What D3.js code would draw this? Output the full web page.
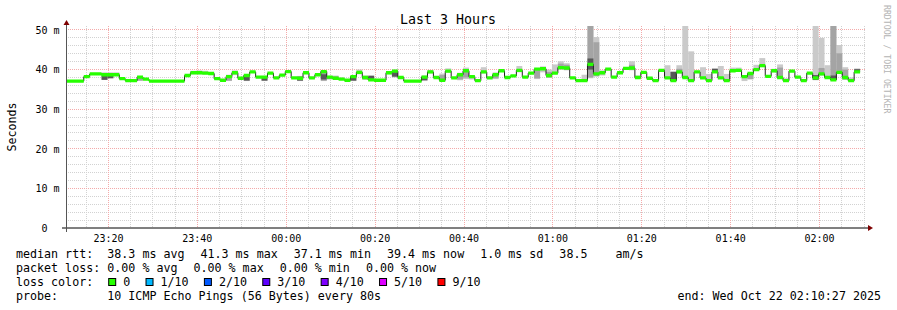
<!DOCTYPE html>
<html><head><meta charset="utf-8">
<script src="https://cdn.jsdelivr.net/npm/d3@7"></script>
<style>
html,body{margin:0;padding:0;background:#fff;}
svg{display:block;}
text{font-family:"DejaVu Sans Mono",monospace;white-space:pre;}
</style></head><body>
<svg id="c" width="897" height="310"></svg>
<script>
// ---- data ----
const median = [
 37.1,37.1,37.1,38.2,38.9,38.9,38.7,38.7,38.7,37.7,
 37.2,37.2,38.1,37.6,37.1,37.1,37.1,37.1,37.1,37.1,
 38.5,39.2,39.2,39.1,39.0,37.7,37.3,38.2,39.2,37.8,
 38.5,39.4,38.1,38.1,39.1,37.9,38.6,39.5,37.9,37.8,
 39.2,37.9,38.7,39.5,38.1,37.8,37.6,37.3,38.2,39.3,
 38.0,37.4,37.3,37.3,39.2,39.6,38.0,37.1,37.1,37.1,
 38.1,39.4,38.0,37.3,39.6,37.9,38.7,39.7,38.2,37.2,
 39.4,37.9,38.7,39.7,38.0,38.4,39.8,38.1,39.1,40.1,
 40.2,38.5,39.1,40.5,40.4,37.9,37.2,37.2,41.3,38.9,
 39.2,40.1,38.1,39.2,40.3,40.4,38.0,39.3,37.8,37.2,
 39.8,37.9,37.2,39.4,38.0,37.2,39.4,37.9,37.2,39.4,
 37.9,37.2,39.7,39.8,38.2,39.0,40.0,41.0,38.3,39.7,
 38.0,37.2,39.6,38.1,37.2,39.1,37.9,38.9,38.0,37.4,
 39.3,38.0,37.2,39.4
];
// [step, lightLo, lightHi, midLo, midHi, darkLo, darkHi]
const smoke = [
 [6,37.4,39.3,null,null,37.4,38.5],
 [7,37.8,39.3,null,null,37.8,38.5],
 [8,38.4,39.3,null,null,null,null],
 [12,37.2,38.3,37.2,38.0,null,null],
 [21,38.8,39.7,null,null,null,null],
 [22,38.8,39.8,38.9,39.5,null,null],
 [23,38.8,39.7,null,null,null,null],
 [27,37.1,38.7,37.2,38.3,null,null],
 [28,38.6,39.8,null,null,null,null],
 [30,37.1,38.6,null,null,37.2,38.4],
 [33,37.1,38.2,null,null,37.2,38.0],
 [39,37.1,38.4,null,null,37.2,38.2],
 [43,37.1,39.6,37.2,39.2,37.5,38.8],
 [44,37.5,38.4,37.6,38.3,null,null],
 [45,37.6,38.5,37.7,38.3,null,null],
 [46,37.4,38.0,null,null,null,null],
 [48,37.1,38.5,null,null,37.2,38.2],
 [49,38.8,40.0,null,null,null,null],
 [50,37.4,38.5,null,null,37.6,38.3],
 [51,37.3,38.6,null,null,37.5,38.4],
 [54,38.8,39.5,null,null,null,null],
 [55,38.0,40.0,null,null,38.2,39.4],
 [60,37.1,38.5,null,null,37.3,38.3],
 [61,39.0,39.9,null,null,null,null],
 [63,37.2,39.0,37.3,38.6,null,null],
 [64,39.2,40.3,null,null,null,null],
 [66,37.3,39.2,37.5,38.9,null,null],
 [67,37.6,40.5,38.0,40.1,null,null],
 [68,37.5,38.6,null,null,null,null],
 [70,39.0,40.6,null,null,null,null],
 [72,37.6,39.3,37.8,39.0,null,null],
 [76,39.3,40.9,null,null,null,null],
 [79,37.6,40.3,37.8,39.8,null,null],
 [80,39.3,40.8,null,null,null,null],
 [81,37.9,40.0,38.0,39.4,null,null],
 [82,39.0,41.3,null,null,null,null],
 [83,40.0,42.1,40.1,41.5,null,null],
 [84,39.8,41.6,39.9,41.2,null,null],
 [87,37.2,38.7,null,null,null,null],
 [88,37.8,52.0,38.0,52.0,40.0,42.8],
 [89,38.2,48.2,38.4,46.9,null,null],
 [90,38.5,39.8,null,null,null,null],
 [95,39.8,42.1,39.9,41.2,null,null],
 [96,37.8,38.5,null,null,null,null],
 [101,37.8,41.1,null,null,null,null],
 [102,37.2,39.6,null,null,37.3,39.4],
 [103,39.0,41.1,39.1,40.2,null,null],
 [104,37.8,52.0,null,null,null,null],
 [105,37.1,44.6,null,null,null,null],
 [107,37.8,40.6,null,null,null,null],
 [108,37.1,38.9,null,null,null,null],
 [109,39.2,40.3,null,null,39.3,40.2],
 [110,37.8,40.9,null,null,null,null],
 [111,37.1,38.9,null,null,null,null],
 [112,39.5,40.5,null,null,null,null],
 [113,39.5,40.5,null,null,null,null],
 [114,37.1,38.4,null,null,null,null],
 [115,37.5,39.2,37.6,39.0,null,null],
 [116,39.7,41.2,null,null,null,null],
 [117,40.6,42.9,null,null,null,null],
 [119,39.3,40.2,39.4,40.0,null,null],
 [120,37.9,41.3,38.0,40.5,null,null],
 [121,37.1,37.8,null,null,null,null],
 [126,37.3,52.0,null,null,37.4,38.6],
 [127,38.5,48.0,38.6,40.4,null,null],
 [128,37.9,41.1,null,null,null,null],
 [129,37.3,52.0,37.4,52.0,37.5,38.5],
 [130,39.0,46.2,39.1,44.1,null,null],
 [131,37.4,40.6,37.5,40.0,null,null],
 [132,37.1,38.0,null,null,null,null],
 [133,39.3,40.3,null,null,39.4,40.1]
];
const stepSeconds = 80;
const startTime = new Date(Date.UTC(2025, 9, 21, 23, 10, 27));
const endTime   = new Date(Date.UTC(2025, 9, 22, 2, 10, 27));
const yMax = 51;
const yMajor = [0, 10, 20, 30, 40, 50];
const yMinorStep = 2;
const xMajorMinutes = 20, xMinorMinutes = 5;
const title = "Last 3 Hours";
const yTitle = "Seconds";
const rttLabel = "median rtt:";
const rttStats = ["38.3 ms avg", "41.3 ms max", "37.1 ms min", "39.4 ms now", "1.0 ms sd", "38.5    am/s"];
const lossLabel = "packet loss:";
const lossStats = ["0.00 % avg", "0.00 % max", "0.00 % min", "0.00 % now"];
const lossColorLabel = "loss color:";
const lossLabels = ["0", "1/10", "2/10", "3/10", "4/10", "5/10", "9/10"];
const lossColors = ["#26ff00", "#00b8ff", "#0059ff", "#5e00ff", "#7e00ff", "#dd00ff", "#ff0000"];
const probeLabel = "probe:";
const probeText = "10 ICMP Echo Pings (56 Bytes) every 80s";
const endText = "end: Wed Oct 22 02:10:27 2025";
const sideText = "RRDTOOL / TOBI OETIKER";
const medianHalfWidth = 0.42;

// ---- layout ----
const X0 = 66, X1 = 866, Y0 = 228, Y1 = 26;
const svg = d3.select("#c");
svg.append("rect").attr("width", 897).attr("height", 310).attr("fill", "#fff");

const x = d3.scaleUtc().domain([startTime, endTime]).range([X0, X1]);
const y = d3.scaleLinear().domain([0, yMax]).range([Y0, Y1]);
const tAt = i => new Date(startTime.getTime() + i * stepSeconds * 1000);
const crisp = v => Math.floor(v) + 0.5;

// grid
const g = svg.append("g").attr("shape-rendering", "crispEdges");
const minorY = d3.range(0, yMax + 0.001, yMinorStep).filter(v => v % 10 !== 0);
const minorX = d3.utcMinute.every(xMinorMinutes).range(startTime, endTime)
  .filter(d => d.getUTCMinutes() % xMajorMinutes !== 0);
const majorX = d3.utcMinute.every(xMajorMinutes).range(startTime, endTime);
const minorCol = "#d2d2d2", majorCol = "#f4aaaa";
g.selectAll(".hmin").data(minorY).join("line")
  .attr("x1", X0).attr("x2", X1)
  .attr("y1", d => crisp(y(d))).attr("y2", d => crisp(y(d)))
  .attr("stroke", minorCol).attr("stroke-dasharray", "1,1");
g.selectAll(".vmin").data(minorX).join("line")
  .attr("x1", d => crisp(x(d))).attr("x2", d => crisp(x(d)))
  .attr("y1", Y1).attr("y2", Y0)
  .attr("stroke", minorCol).attr("stroke-dasharray", "1,1");
g.selectAll(".hmaj").data(yMajor.filter(v => v > 0)).join("line")
  .attr("x1", X0).attr("x2", X1)
  .attr("y1", d => crisp(y(d))).attr("y2", d => crisp(y(d)))
  .attr("stroke", majorCol).attr("stroke-dasharray", "1,1");
g.selectAll(".vmaj").data(majorX).join("line")
  .attr("x1", d => crisp(x(d))).attr("x2", d => crisp(x(d)))
  .attr("y1", Y1).attr("y2", Y0)
  .attr("stroke", majorCol).attr("stroke-dasharray", "1,1");

// plot clip
svg.append("clipPath").attr("id", "pc").append("rect")
  .attr("x", X0).attr("y", Y1).attr("width", X1 - X0).attr("height", Y0 - Y1);
const plot = svg.append("g").attr("clip-path", "url(#pc)");

// smoke
const bands = [
  {lo: 1, hi: 2, color: "#cacaca"},
  {lo: 3, hi: 4, color: "#a4a4a4"},
  {lo: 5, hi: 6, color: "#585858"}
];
bands.forEach(b => {
  plot.append("g").selectAll("rect").data(smoke.filter(s => s[b.lo] != null)).join("rect")
    .attr("x", s => x(tAt(s[0])))
    .attr("width", s => x(tAt(s[0] + 1)) - x(tAt(s[0])))
    .attr("y", s => y(s[b.hi]))
    .attr("height", s => y(s[b.lo]) - y(s[b.hi]))
    .attr("fill", b.color);
});

// median
const pts = median.map((v, i) => ({t: tAt(i), v}));
pts.push({t: tAt(median.length), v: median[median.length - 1]});
plot.append("path").datum(pts)
  .attr("d", d3.line().x(d => x(d.t)).y(d => y(d.v)).curve(d3.curveStepAfter))
  .attr("fill", "none").attr("stroke", "#202020").attr("stroke-width", 1);
plot.append("path").datum(pts)
  .attr("d", d3.area().x(d => x(d.t)).y0(d => y(d.v - medianHalfWidth)).y1(d => y(d.v + medianHalfWidth)).curve(d3.curveStepAfter))
  .attr("fill", lossColors[0]);

// axes
svg.append("line").attr("x1", X0 - 4).attr("x2", X1 + 4).attr("y1", Y0).attr("y2", Y0)
  .attr("stroke", "#000").attr("stroke-width", 1);
svg.append("line").attr("x1", X0 + 0.5).attr("x2", X0 + 0.5).attr("y1", Y0 + 4).attr("y2", Y1 - 3)
  .attr("stroke", "#555").attr("stroke-width", 1);
svg.append("path").attr("d", `M${X0 + 0.5 - 3},${Y1 - 1} L${X0 + 0.5 + 3},${Y1 - 1} L${X0 + 0.5},${Y1 - 6} Z`).attr("fill", "#7f0000");
svg.append("path").attr("d", `M${X1 + 2},${Y0 - 3} L${X1 + 2},${Y0 + 3} L${X1 + 7},${Y0} Z`).attr("fill", "#7f0000");

// tick labels
svg.append("g").selectAll("text").data(yMajor).join("text")
  .attr("x", d => d === 0 ? 47.5 : 59.5)
  .attr("y", d => y(d) + 3.8)
  .attr("text-anchor", "end").attr("font-size", 10).attr("fill", "#000")
  .text(d => d === 0 ? "0" : d + " m");
const fmt = d3.utcFormat("%H:%M");
svg.append("g").selectAll("text").data(majorX).join("text")
  .attr("x", d => x(d)).attr("y", 241.8)
  .attr("text-anchor", "middle").attr("font-size", 10).attr("fill", "#000")
  .text(d => fmt(d));

// titles
svg.append("text").attr("x", 448).attr("y", 23.5).attr("text-anchor", "middle")
  .attr("font-size", 13.3).attr("fill", "#000").text(title);
svg.append("text").attr("transform", "translate(15.5,127) rotate(-90)").attr("text-anchor", "middle")
  .attr("font-size", 11.6).attr("fill", "#000").text(yTitle);
svg.append("text").attr("transform", "translate(884,5) rotate(90)").attr("text-anchor", "start")
  .attr("font-size", 8.2).attr("fill", "#b4b4b4").text(sideText);

// legend
const CW = 7.02, FS = 11.67, LX = 16, VX = 107.3, GAP = 16;
const rowY = [258.3, 272.3, 286.3, 300.3];
const leg = svg.append("g").attr("font-size", FS).attr("fill", "#000");
function row(label, items, yy) {
  leg.append("text").attr("x", LX).attr("y", yy).text(label);
  let cx = VX;
  items.forEach(s => {
    leg.append("text").attr("x", cx).attr("y", yy).text(s);
    cx += s.length * CW + GAP;
  });
}
row(rttLabel, rttStats, rowY[0]);
row(lossLabel, lossStats, rowY[1]);
leg.append("text").attr("x", LX).attr("y", rowY[2]).text(lossColorLabel);
let sx = 108.2;
lossLabels.forEach((l, i) => {
  leg.append("rect").attr("x", sx + 0.5).attr("y", 278.5).attr("width", 7).attr("height", 7)
    .attr("fill", lossColors[i]).attr("stroke", "#000").attr("stroke-width", 1);
  leg.append("text").attr("x", sx + 15).attr("y", rowY[2]).text(l);
  sx = sx + 15 + l.length * CW + 15.3;
});
leg.append("text").attr("x", LX).attr("y", rowY[3]).text(probeLabel);
leg.append("text").attr("x", VX).attr("y", rowY[3]).text(probeText);
leg.append("text").attr("x", 881).attr("y", rowY[3]).attr("text-anchor", "end").text(endText);
</script>
</body></html>
